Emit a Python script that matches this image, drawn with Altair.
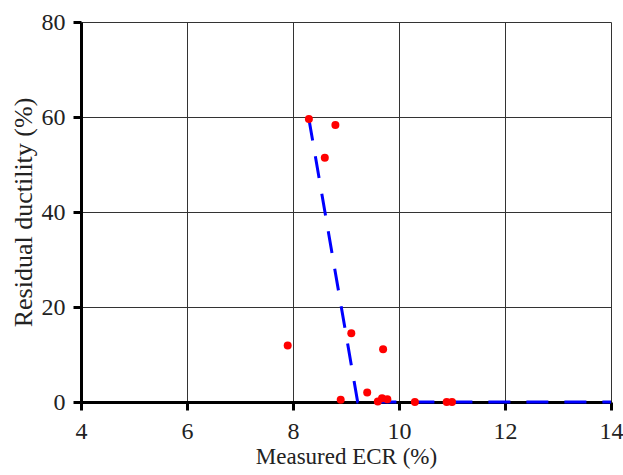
import altair as alt
import pandas as pd

# Measured points
ecr = [7.9, 8.3, 8.6, 8.8, 9.1, 9.7, 8.9, 9.4, 9.6, 9.68, 9.78, 10.3, 10.9, 11.0]
ductility = [11.9, 59.6, 51.4, 58.3, 14.5, 11.1, 0.5, 2.0, 0.1, 0.8, 0.6, 0.0, 0.0, 0.0]

# Fitted trend (dashed)
fit_x = [8.3, 9.22, 14.0]
fit_y = [59.6, 0.0, 0.0]

pts = pd.DataFrame({"x": ecr, "y": ductility})
fit = pd.DataFrame({"x": fit_x, "y": fit_y, "o": list(range(len(fit_x)))})

FONT = "Liberation Serif"

xscale = alt.Scale(domain=[4, 14], nice=False, zero=False)
yscale = alt.Scale(domain=[0, 80], nice=False)

xaxis = alt.Axis(title="Measured ECR (%)", values=[4, 6, 8, 10, 12, 14],
                 grid=True, gridColor="#333333", gridWidth=1, gridOpacity=1,
                 domainColor="black", domainWidth=3, tickColor="black", tickWidth=3,
                 tickSize=8, labelPadding=9, labelFont=FONT, labelFontSize=24,
                 labelColor="#222222", titleFont=FONT, titleFontSize=23,
                 titleFontWeight="normal", titleColor="#222222", titlePadding=2,
                 labelFlush=False)
yaxis = alt.Axis(title="Residual ductility (%)", values=[0, 20, 40, 60, 80],
                 grid=True, gridColor="#333333", gridWidth=1, gridOpacity=1,
                 domainColor="black", domainWidth=3, tickColor="black", tickWidth=3,
                 tickSize=8, labelPadding=8, labelFont=FONT, labelFontSize=24,
                 labelColor="#222222", titleFont=FONT, titleFontSize=26,
                 titleFontWeight="normal", titleColor="#222222", titlePadding=5)

line = alt.Chart(fit).mark_line(color="#0000FF", strokeWidth=3, strokeDash=[22, 16]).encode(
    x=alt.X("x:Q", scale=xscale, axis=xaxis),
    y=alt.Y("y:Q", scale=yscale, axis=yaxis),
    order="o:O",
)

points = alt.Chart(pts).mark_circle(color="#FF0000", opacity=1, size=64).encode(
    x=alt.X("x:Q", scale=xscale),
    y=alt.Y("y:Q", scale=yscale),
)

chart = alt.layer(line, points).properties(
    width=530, height=380,
    autosize="none",
    padding={"left": 81, "top": 22, "right": 12, "bottom": 73},
    background="white",
).configure_view(stroke=None)

chart.save("out.html", embed_options={"renderer": "svg", "actions": False})
